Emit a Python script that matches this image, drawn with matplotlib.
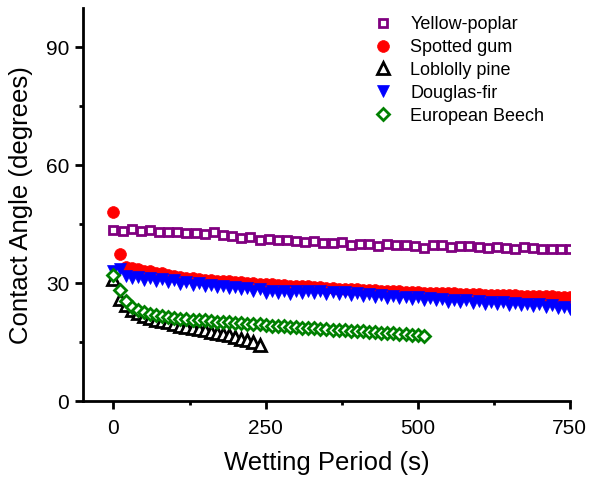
import numpy as np
import matplotlib
matplotlib.use("Agg")
import matplotlib.pyplot as plt
from matplotlib.ticker import MultipleLocator

plt.rcParams['font.family'] = ['Liberation Sans', 'DejaVu Sans']

# time grids (s)
t_poplar = np.arange(0, 751, 15)
t_gum = np.arange(0, 751, 10)
t_pine = np.arange(0, 241, 10)
t_fir = np.arange(0, 751, 10)
t_beech = np.arange(0, 511, 10)

yellow_poplar = [43.6, 43.4, 43.8, 43.2, 43.5, 42.9, 43.0, 43.1, 42.8, 42.8, 42.6,
                 42.9, 42.2, 41.9, 41.6, 41.8, 41.0, 41.2, 40.9, 41.0, 40.8,
                 40.5, 40.7, 40.2, 40.3, 40.4, 39.8, 40.0, 39.9, 39.4, 40.0,
                 39.7, 39.6, 39.5, 39.0, 39.8, 39.6, 39.3, 39.5, 39.4, 39.2,
                 38.9, 39.1, 39.0, 38.8, 39.2, 38.9, 38.8, 38.7, 38.8, 38.7]

spotted_gum = [48.0, 37.5, 34.2, 33.8, 33.5, 33.2, 33.0, 32.6, 32.5, 32.0,
               31.8, 31.6, 31.3, 31.2, 31.0, 30.9, 30.8, 30.6, 30.5, 30.5,
               30.2, 30.3, 30.0, 30.1, 29.9, 29.8, 29.9, 29.6, 29.5, 29.4,
               29.3, 29.2, 29.2, 29.0, 28.9, 28.8, 28.8, 28.6, 28.6, 28.5,
               28.4, 28.3, 28.3, 28.2, 28.1, 28.0, 28.0, 27.9, 27.8, 27.8,
               27.7, 27.6, 27.6, 27.5, 27.5, 27.4, 27.4, 27.3, 27.3, 27.2,
               27.2, 27.1, 27.1, 27.0, 27.0, 26.9, 26.9, 26.8, 26.8, 26.8,
               26.7, 26.7, 26.7, 26.6, 26.6, 26.6]

loblolly_pine = [31.0, 26.0, 24.5, 23.2, 22.3, 21.7, 21.2, 20.7, 20.3, 20.0,
                 19.6, 19.2, 18.9, 18.6, 18.3, 18.0, 17.6, 17.3, 17.0, 16.7,
                 16.3, 15.9, 15.5, 15.0, 14.3]

douglas_fir = [33.0, 33.5, 31.8, 31.2, 31.6, 30.9, 31.3, 30.6, 31.0, 30.3,
               30.7, 29.9, 30.3, 29.6, 30.0, 29.2, 29.6, 28.9, 29.4, 28.7,
               29.1, 28.4, 28.8, 27.9, 28.4, 27.6, 28.1, 27.4, 28.0, 27.3,
               27.9, 27.4, 28.1, 27.5, 28.0, 27.3, 27.8, 27.2, 27.7, 27.0,
               27.5, 26.8, 27.3, 26.5, 27.0, 26.3, 26.8, 26.1, 26.6, 25.9,
               26.4, 25.8, 26.2, 25.6, 26.0, 25.3, 25.8, 25.1, 25.6, 24.9,
               25.4, 24.8, 25.3, 24.7, 25.1, 24.5, 25.0, 24.4, 24.8, 24.2,
               24.6, 24.0, 24.4, 23.8, 24.0, 23.4]

european_beech = [32.0, 28.3, 25.5, 24.0, 23.2, 22.6, 22.2, 21.9, 21.6, 21.4,
                  21.2, 21.0, 20.9, 20.7, 20.6, 20.5, 20.4, 20.2, 20.1, 20.0,
                  19.9, 19.8, 19.7, 19.6, 19.5, 19.4, 19.2, 19.1, 19.0, 18.9,
                  18.8, 18.7, 18.6, 18.5, 18.4, 18.3, 18.2, 18.1, 18.0, 17.9,
                  17.8, 17.7, 17.6, 17.5, 17.4, 17.3, 17.2, 17.1, 17.0, 16.9,
                  16.8, 16.6]

labels = ["Yellow-poplar", "Spotted gum", "Loblolly pine", "Douglas-fir", "European Beech"]
x_ticks = [0, 250, 500, 750]
y_ticks = [0, 30, 60, 90]

fig = plt.figure(figsize=(5.93, 4.82), dpi=100)
ax = fig.add_axes([0.140, 0.168, 0.821, 0.815])

ax.plot(t_poplar, yellow_poplar, ls='none', marker='s', ms=6.0, mfc='white',
        mec='#800080', mew=2.0, label=labels[0])
ax.plot(t_gum, spotted_gum, ls='none', marker='o', ms=8.5, mfc='#ff0000',
        mec='#ff0000', mew=0.5, label=labels[1])
ax.plot(t_pine, loblolly_pine, ls='none', marker='^', ms=8.0, mfc='white',
        mec='black', mew=2.0, label=labels[2])
ax.plot(t_fir, douglas_fir, ls='none', marker='v', ms=9.0, mfc='#0000ff',
        mec='#0000ff', mew=0.5, label=labels[3])
ax.plot(t_beech, european_beech, ls='none', marker='D', ms=6.5, mfc='white',
        mec='#008000', mew=2.0, label=labels[4])

ax.set_xlim(-50, 750)
ax.set_ylim(0, 100)
ax.set_xticks(x_ticks)
ax.set_yticks(y_ticks)
ax.xaxis.set_minor_locator(MultipleLocator(125))
ax.yaxis.set_minor_locator(MultipleLocator(15))

for s in ['top', 'right']:
    ax.spines[s].set_visible(False)
for s in ['left', 'bottom']:
    ax.spines[s].set_linewidth(2.0)

ax.tick_params(which='major', direction='out', length=6, width=2.0, labelsize=15)
ax.tick_params(axis='x', which='major', pad=7)
ax.tick_params(axis='y', which='major', pad=4)
ax.tick_params(which='minor', direction='out', length=3, width=2.0)

ax.set_xlabel("Wetting Period (s)", fontsize=18.5, labelpad=9)
ax.set_ylabel("Contact Angle (degrees)", fontsize=18.5, labelpad=9)

ax.legend(loc='upper left', bbox_to_anchor=(0.576, 1.008), frameon=False,
          fontsize=13, handlelength=1.0, handletextpad=1.0, labelspacing=0.33,
          borderaxespad=0.2)

fig.savefig("out.png", dpi=100)
